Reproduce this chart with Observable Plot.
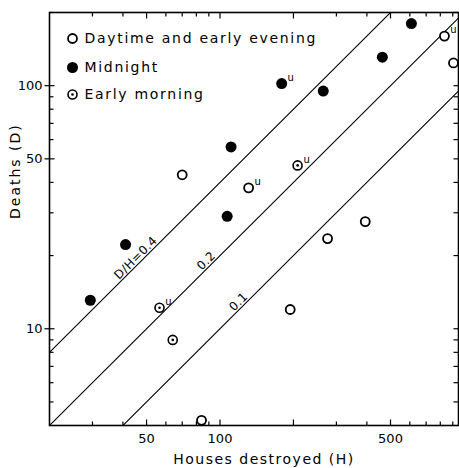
<!DOCTYPE html>
<html><head><meta charset="utf-8">
<script src="https://cdn.jsdelivr.net/npm/d3@7"></script>
<script src="https://cdn.jsdelivr.net/npm/@observablehq/plot@0.6"></script>
<style>
body{margin:0;background:#fff;}
#chart svg{display:block;}
</style></head><body><div id="chart"></div>
<script>
// Data (H = houses destroyed, D = deaths)
const seriesNames = ["Daytime and early evening", "Midnight", "Early morning"];

const daytimeH = [70, 131, 276, 194, 394, 832, 906, 84];
const daytimeD = [43, 38, 23.5, 12, 27.6, 160, 124, 4.2];
const daytimeU = [0, 1, 0, 0, 0, 1, 0, 0];

const midnightH = [29.4, 41, 107, 111, 179, 265, 463, 609];
const midnightD = [13.1, 22.2, 29, 56, 102, 95, 131, 180];
const midnightU = [0, 0, 0, 0, 1, 0, 0, 0];

const morningH = [56.5, 64, 208];
const morningD = [12.2, 9, 47];
const morningU = [1, 0, 1];

// reference lines D/H = ratio
const ratios = [0.4, 0.2, 0.1];
const ratioLabels = ["D/H=0.4", "0.2", "0.1"];
const ratioLabelH = [47, 91.5, 124];

// axes
const xDomain = [20, 950];
const yDomain = [4, 200];
const xTickLabels = [50, 100, 500];
const xMajorTicks = [50, 100, 200, 500];
const xMinorTicks = [30, 40, 60, 70, 80, 90, 300, 400, 600, 700, 800, 900];
const yTickLabels = [10, 50, 100];
const yMajorTicks = [10, 50, 100];
const yMinorTicks = [5, 6, 7, 8, 9, 20, 30, 40, 60, 70, 80, 90, 200];
const xLabel = "Houses destroyed (H)";
const yLabel = "Deaths (D)";

const W = 459, Hgt = 468, mL = 49, mR = 1, mT = 12, mB = 43;
const pw = W - mL - mR, ph = Hgt - mT - mB;
// multiplicative factors matching a given pixel length on each log axis (for tick lengths)
const pxPerDecX = pw / Math.log10(xDomain[1] / xDomain[0]);
const pxPerDecY = ph / Math.log10(yDomain[1] / yDomain[0]);
const fx = px => Math.pow(10, px / pxPerDecX);
const fy = px => Math.pow(10, px / pxPerDecY);

const idx = a => a.map((_, i) => i);
const lineData = ratios.flatMap((r, k) => xDomain.map(h => ({h, d: r * h, k})));
const uPts = [
  ...idx(daytimeH).filter(i => daytimeU[i]).map(i => ({h: daytimeH[i], d: daytimeD[i]})),
  ...idx(midnightH).filter(i => midnightU[i]).map(i => ({h: midnightH[i], d: midnightD[i]})),
  ...idx(morningH).filter(i => morningU[i]).map(i => ({h: morningH[i], d: morningD[i]}))
];

const legendDy = [26, 55, 82];
const tickStyle = {stroke: "black", strokeWidth: 1.2};

const chart = Plot.plot({
  width: W, height: Hgt,
  marginLeft: mL, marginRight: mR, marginTop: mT, marginBottom: mB,
  style: {fontFamily: "DejaVu Sans", fontSize: "13px", background: "white", color: "black"},
  x: {type: "log", domain: xDomain, axis: null, label: null},
  y: {type: "log", domain: yDomain, axis: null, label: null},
  marks: [
    Plot.line(lineData, {x: "h", y: "d", z: "k", stroke: "black", strokeWidth: 1.1, clip: true}),
    Plot.text(idx(ratios), {x: i => ratioLabelH[i], y: i => ratios[i] * ratioLabelH[i], text: i => ratioLabels[i],
      rotate: -45, lineAnchor: "bottom", dx: -1.5, dy: -1.5, fontSize: 12, fill: "black"}),
    Plot.frame({stroke: "black", strokeWidth: 1.6}),
    // ticks, pointing inward (bottom, top, left, right)
    Plot.link(xMinorTicks, {x1: d => d, x2: d => d, y1: () => yDomain[0], y2: () => yDomain[0] * fy(4), ...tickStyle}),
    Plot.link(xMajorTicks, {x1: d => d, x2: d => d, y1: () => yDomain[0], y2: () => yDomain[0] * fy(6), ...tickStyle}),
    Plot.link(xMinorTicks, {x1: d => d, x2: d => d, y1: () => yDomain[1], y2: () => yDomain[1] / fy(4), ...tickStyle}),
    Plot.link(xMajorTicks, {x1: d => d, x2: d => d, y1: () => yDomain[1], y2: () => yDomain[1] / fy(6), ...tickStyle}),
    Plot.link(yMinorTicks, {y1: d => d, y2: d => d, x1: () => xDomain[0], x2: () => xDomain[0] * fx(4), ...tickStyle}),
    Plot.link(yMajorTicks, {y1: d => d, y2: d => d, x1: () => xDomain[0] / fx(5), x2: () => xDomain[0] * fx(5), ...tickStyle}),
    Plot.link([...yMinorTicks, ...yMajorTicks], {y1: d => d, y2: d => d, x1: () => xDomain[1], x2: () => xDomain[1] / fx(5), ...tickStyle}),
    // tick labels
    Plot.text(xTickLabels, {x: d => d, frameAnchor: "bottom", lineAnchor: "middle", dy: 13, text: d => String(d), fontSize: 13, fill: "black"}),
    Plot.text(yTickLabels, {y: d => d, frameAnchor: "left", lineAnchor: "middle", dx: -7, textAnchor: "end", text: d => String(d), fontSize: 13, fill: "black"}),
    // axis titles
    Plot.text([xLabel], {frameAnchor: "bottom", lineAnchor: "middle", dy: 34, dx: 10, fontSize: 14, fill: "black"}),
    Plot.text([yLabel], {frameAnchor: "left", lineAnchor: "middle", dx: -34, rotate: -90, fontSize: 14, fill: "black"}),
    // data
    Plot.dot(idx(daytimeH), {x: i => daytimeH[i], y: i => daytimeD[i], r: 4.5, stroke: "black", strokeWidth: 1.8, fill: "white"}),
    Plot.dot(idx(midnightH), {x: i => midnightH[i], y: i => midnightD[i], r: 5.5, fill: "black"}),
    Plot.dot(idx(morningH), {x: i => morningH[i], y: i => morningD[i], r: 4.5, stroke: "black", strokeWidth: 1.6, fill: "white"}),
    Plot.dot(idx(morningH), {x: i => morningH[i], y: i => morningD[i], r: 1.3, fill: "black"}),
    Plot.text(uPts, {x: "h", y: "d", text: () => "u", dx: 9, dy: -6, fontSize: 10, fill: "black"}),
    // legend
    Plot.dot([0], {frameAnchor: "top-left", dx: 23, dy: legendDy[0], r: 4.5, stroke: "black", strokeWidth: 1.8, fill: "white"}),
    Plot.dot([0], {frameAnchor: "top-left", dx: 23, dy: legendDy[1], r: 5.5, fill: "black"}),
    Plot.dot([0], {frameAnchor: "top-left", dx: 23, dy: legendDy[2], r: 4.5, stroke: "black", strokeWidth: 1.6, fill: "white"}),
    Plot.dot([0], {frameAnchor: "top-left", dx: 23, dy: legendDy[2], r: 1.3, fill: "black"}),
    ...seriesNames.map((s, k) => Plot.text([s], {frameAnchor: "top-left", lineAnchor: "middle", dx: 35, dy: legendDy[k], textAnchor: "start", fontSize: 14, fill: "black"}))
  ]
});
const spacing = new Map([
  ...seriesNames.map(s => [s, "1.7px"]),
  [xLabel, "1.5px"], [yLabel, "2px"],
  ...ratioLabels.map(s => [s, "0.5px"])
]);
chart.querySelectorAll("text").forEach(t => {
  const sp = spacing.get(t.textContent);
  if (sp) t.style.letterSpacing = sp;
});
document.getElementById("chart").appendChild(chart);
</script></body></html>
